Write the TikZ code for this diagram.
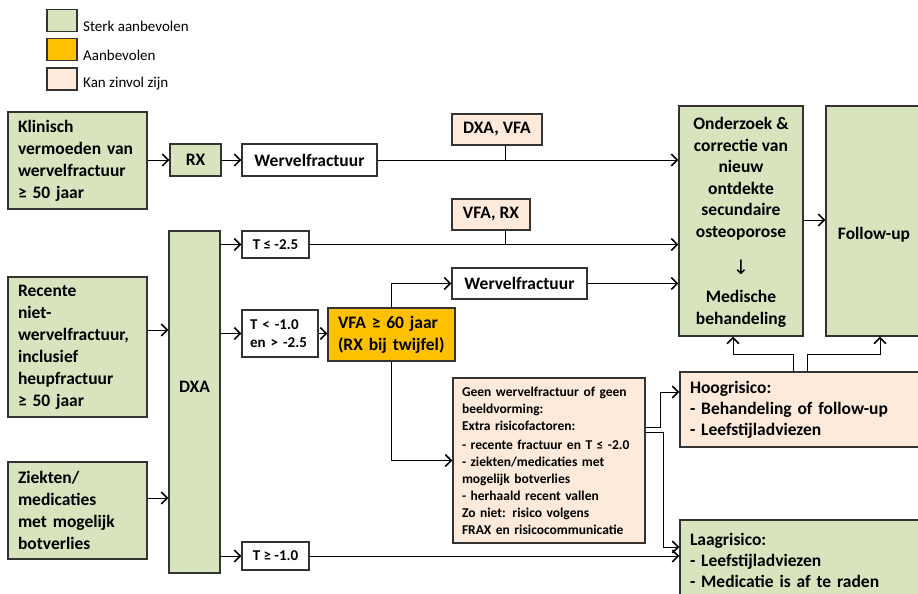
\documentclass[tikz,border=0pt]{standalone}
\usepackage{fontspec}
\setmainfont{Carlito}
\newfontfamily\dejavu{DejaVu Sans}
\usetikzlibrary{arrows.meta,calc}
\definecolor{gr}{HTML}{D7E4BD}
\definecolor{ye}{HTML}{FFC000}
\definecolor{pe}{HTML}{FDEADA}
\definecolor{bd}{HTML}{333333}
\begin{document}
\begin{tikzpicture}[x=1pt,y=-1pt,
  box/.style={draw=bd, line width=1.2pt, rectangle, inner sep=0pt, font=\bfseries\fontsize{17.5}{22}\selectfont},
  gbox/.style={box, fill=gr},
  ybox/.style={box, fill=ye},
  pbox/.style={box, fill=pe},
  wbox/.style={box, fill=white},
  lbox/.style={align=left, inner xsep=10pt, text width=#1},
  tfont/.style={font=\bfseries\fontsize{15}{18}\selectfont},
  geenfont/.style={font=\bfseries\fontsize{13.5}{17}\selectfont},
  txt/.style={font=\bfseries\fontsize{17.5}{21.5}\selectfont, align=center, inner sep=0pt},
  con/.style={draw=black, line width=0.9pt},
  arr/.style={con, -{Straight Barb[length=6pt,width=12pt,line width=1.6pt]}},
  legbox/.style={draw=bd, line width=1.2pt, minimum width=30pt, minimum height=22pt, inner sep=0pt},
  legtxt/.style={anchor=west, font=\fontsize{15}{18}\selectfont, inner sep=0pt},
]
\useasboundingbox (0,0) rectangle (918,594);
% legend
\node[legbox, fill=gr] (lg1) at (62,20.5) {};
\node[legtxt] (lt1) at (83,26) {Sterk aanbevolen};
\node[legbox, fill=ye] (lg2) at (62,49.5) {};
\node[legtxt] (lt2) at (83,55) {Aanbevolen};
\node[legbox, fill=pe] (lg3) at (62,79) {};
\node[legtxt] (lt3) at (83,84) {Kan zinvol zijn};
% boxes
\node[gbox, lbox=119pt, minimum height=97pt] (klin) at (77.5,160.5) {Klinisch\\vermoeden van\\wervelfractuur\\≥ 50 jaar};
\node[gbox, minimum width=51pt, minimum height=32pt] (rx) at (195.5,160) {RX};
\node[wbox, minimum width=135pt, minimum height=32pt] (wf1) at (309.5,160) {Wervelfractuur};
\node[pbox, minimum width=90pt, minimum height=31pt] (dxavfa) at (497,129.5) {DXA, VFA};
\node[gbox, minimum width=124pt, minimum height=230pt] (onder) at (741,221) {};
\node[txt] (ondertxt) at (741,178.5) {Onderzoek \&\\correctie van\\nieuw\\ontdekte\\secundaire\\osteoporose};
\node[txt, font=\dejavu\fontsize{20}{22}\selectfont] (pijl) at (741,267) {↓};
\node[txt] (medtxt) at (741,309) {Medische\\behandeling};
\node[gbox, minimum width=104pt, minimum height=230pt] (follow) at (878,221) {};
\node[txt] (followtxt) at (874,235) {Follow-up};
\node[pbox, minimum width=78pt, minimum height=31pt] (vfarx) at (491,214.5) {VFA, RX};
\node[wbox, tfont, minimum width=67pt, minimum height=27pt] (t25) at (275.5,244.5) {T ≤ -2.5};
\node[gbox, minimum width=51pt, minimum height=342pt] (dxa) at (194.5,402) {};
\node[txt] (dxatxt) at (194.5,387) {DXA};
\node[gbox, lbox=119pt, minimum height=140pt] (rec) at (77.5,347) {Recente\\niet-\\wervelfractuur,\\inclusief\\heupfractuur\\≥ 50 jaar};
\node[gbox, lbox=119pt, minimum height=97pt] (ziek) at (77.5,510.5) {Ziekten/\\medicaties\\met mogelijk\\botverlies};
\node[wbox, tfont, lbox=60pt, inner xsep=8pt, minimum height=47pt] (t10) at (280,333.5) {T < -1.0\\en > -2.5};
\node[ybox, lbox=107pt, minimum height=53pt] (vfa60) at (391.5,334.5) {VFA ≥ 60 jaar\\(RX bij twijfel)};
\node[wbox, minimum width=135pt, minimum height=31pt] (wf2) at (519.5,283.5) {Wervelfractuur};
\node[pbox, geenfont, lbox=174pt, inner xsep=9pt, minimum height=165pt] (geen) at (549,460.5) {Geen wervelfractuur of geen\\beeldvorming:\\Extra risicofactoren:\\[2pt]- recente fractuur en T ≤ -2.0\\- ziekten/medicaties met\\mogelijk botverlies\\- herhaald recent vallen\\Zo niet: risico volgens\\FRAX en risicocommunicatie};
\node[wbox, tfont, minimum width=67pt, minimum height=28pt] (tge) at (275.5,556) {T ≥ -1.0};
\node[pbox, lbox=230pt, minimum height=75pt, font=\bfseries\fontsize{17.5}{21}\selectfont] (hoog) at (805,409.5) {Hoogrisico:\\- Behandeling of follow-up\\- Leefstijladviezen};
\node[gbox, lbox=230pt, minimum height=80pt, font=\bfseries\fontsize{17.5}{21}\selectfont] (laag) at (805,560) {Laagrisico:\\- Leefstijladviezen\\- Medicatie is af te raden};
% connectors
\draw[arr] (klin.east |- rx.west) -- (rx.west);
\draw[arr] (rx.east) -- (wf1.west);
\draw[arr] (wf1.east) -- (wf1.east -| onder.west);
\draw[con] ([xshift=8pt]dxavfa.south) -- ([xshift=8pt]dxavfa.south |- wf1.east);
\draw[arr] (t25.east) -- (t25.east -| onder.west);
\draw[con] ([xshift=14pt]vfarx.south) -- ([xshift=14pt]vfarx.south |- t25.east);
\draw[arr] (dxa.east |- t25.west) -- (t25.west);
\draw[arr] (dxa.east |- t10.west) -- (t10.west);
\draw[arr] (dxa.east |- tge.west) -- (tge.west);
\draw[arr] ([yshift=17pt]rec.east) -- ([yshift=17pt]rec.east -| dxa.west);
\draw[arr] ([yshift=12.5pt]ziek.east) -- ([yshift=12.5pt]ziek.east -| dxa.west);
\draw[arr] (t10.east) -- (t10.east -| vfa60.west);
\draw[arr] (vfa60.north) |- (wf2.west);
\draw[arr] (wf2.east) -- (wf2.east -| onder.west);
\draw[arr] (vfa60.south) |- (geen.west);
\draw[arr] ([yshift=1pt]onder.east) -- ([yshift=1pt]onder.east -| follow.west);
\draw[arr] (tge.east) -- (tge.east -| laag.west);
\draw[arr] ([yshift=33.5pt]geen.east) -- ++(15,0) |- ([yshift=17.5pt]hoog.west);
\draw[arr] ([yshift=28.5pt]geen.east) -- ++(18,0) |- ([yshift=13pt]laag.west);
\draw[arr] ([xshift=-12pt]hoog.north) -- ++(0,-17) -| ([xshift=-8pt]onder.south);
\draw[arr] ([xshift=2pt]hoog.north) -- ++(0,-17) -| ([xshift=2pt]follow.south);
\end{tikzpicture}
\end{document}
